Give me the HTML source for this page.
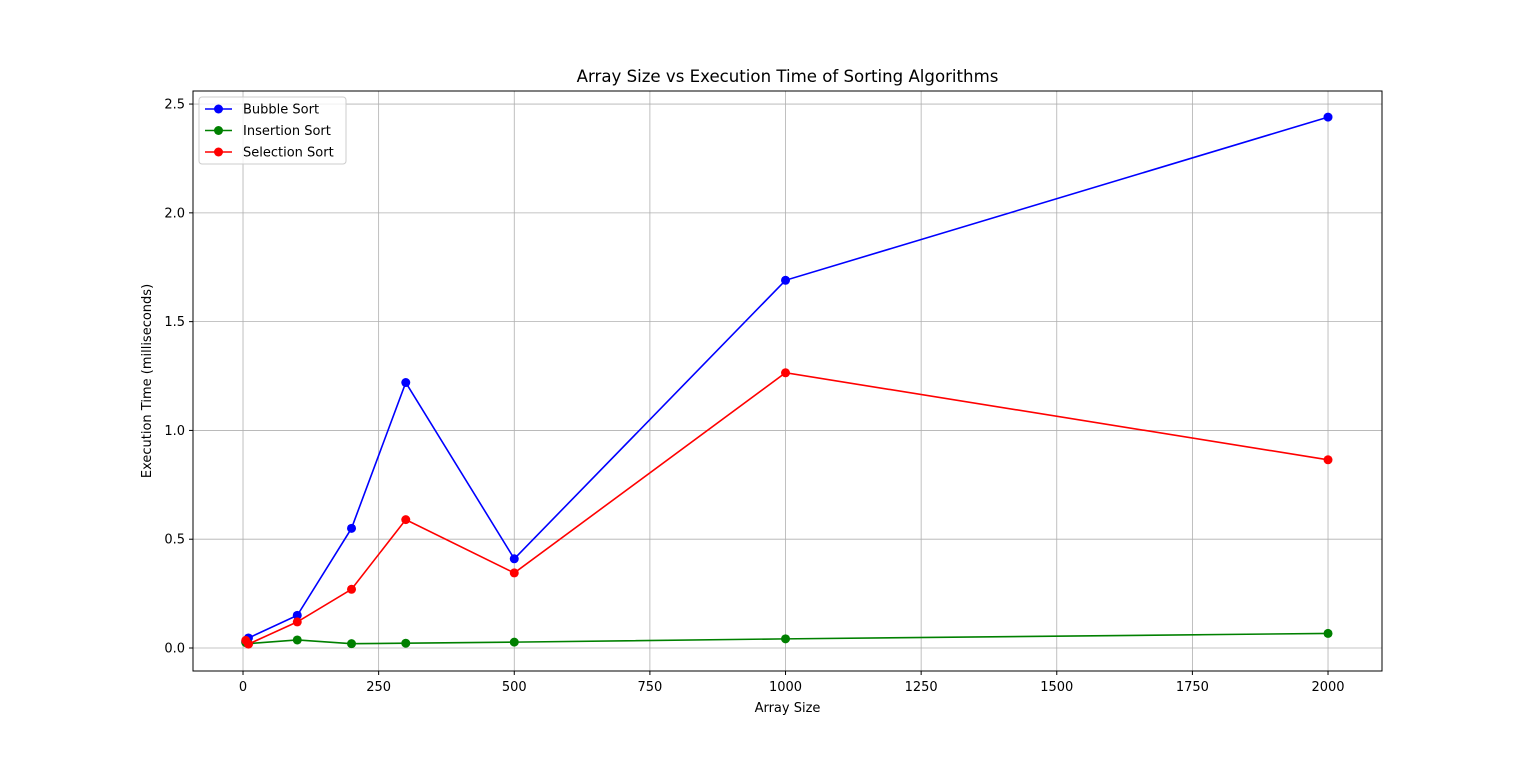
<!DOCTYPE html>
<html><head><meta charset="utf-8"><style>
body{margin:0;background:#fff;font-family:"Liberation Sans","DejaVu Sans",sans-serif}
svg text{font-family:"DejaVu Sans","Liberation Sans",sans-serif}
</style></head><body>
<svg id="c" width="1536" height="754" xmlns="http://www.w3.org/2000/svg"></svg>
<script>
const sizes=[5,10,100,200,300,500,1000,2000];
const bubble=[0.03,0.046,0.15,0.55,1.22,0.41,1.69,2.44];
const insertion=[0.025,0.02,0.037,0.02,0.022,0.027,0.042,0.067];
const selection=[0.035,0.018,0.12,0.27,0.59,0.345,1.265,0.865];
const xTicks=[0,250,500,750,1000,1250,1500,1750,2000];
const yTicks=[0.0,0.5,1.0,1.5,2.0,2.5];
const L=193,R=1382,T=91,B=671,xmin=-92.2,xmax=2099.5,ymin=-0.1057,ymax=2.56;
const X=v=>L+(v-xmin)/(xmax-xmin)*(R-L);
const Y=v=>B-(v-ymin)/(ymax-ymin)*(B-T);
const svg=document.getElementById('c');const NS='http://www.w3.org/2000/svg';
function mk(t,a,p){const e=document.createElementNS(NS,t);for(const k in a)e.setAttribute(k,a[k]);(p||svg).appendChild(e);return e;}
xTicks.forEach(v=>{const x=X(v);
const g=mk('line',{x1:x,x2:x,y1:T,y2:B,stroke:'#b0b0b0','stroke-width':0.8});


mk('line',{x1:x,x2:x,y1:B,y2:B+4,stroke:'#000'});
const t=mk('text',{x:x,y:B+20,'text-anchor':'middle','font-size':13});t.textContent=v;

});
yTicks.forEach(v=>{const y=Y(v);
const g=mk('line',{x1:L,x2:R,y1:y,y2:y,stroke:'#b0b0b0','stroke-width':0.8});


mk('line',{x1:L-4,x2:L,y1:y,y2:y,stroke:'#000'});
const t=mk('text',{x:L-8,y:y+4.5,'text-anchor':'end','font-size':13});t.textContent=v.toFixed(1);

});
const series=[[bubble,'#0000ff','bubble-sort'],[insertion,'#008000','insertion-sort'],[selection,'#ff0000','selection-sort']];
series.forEach(([d,c,n])=>{
const p=mk('polyline',{points:d.map((v,i)=>X(sizes[i])+','+Y(v)).join(' '),fill:'none',stroke:c,'stroke-width':1.6});


d.forEach((v,i)=>{const m=mk('circle',{cx:X(sizes[i]),cy:Y(v),r:4.5,fill:c});

});});
const fr=mk('rect',{x:L,y:T,width:R-L,height:B-T,fill:'none',stroke:'#000','stroke-width':1});


const ti=mk('text',{x:(L+R)/2,y:82,'text-anchor':'middle','font-size':16.6});ti.textContent='Array Size vs Execution Time of Sorting Algorithms';


const xl=mk('text',{x:(L+R)/2,y:712,'text-anchor':'middle','font-size':13});xl.textContent='Array Size';


const yl=mk('text',{x:0,y:0,'text-anchor':'middle','font-size':13,transform:`translate(151,${(T+B)/2}) rotate(-90)`});yl.textContent='Execution Time (milliseconds)';


const lg=mk('g',{});


mk('rect',{x:199,y:97,width:147,height:67,rx:3,fill:'#fff','fill-opacity':0.8,stroke:'#ccc'},lg);
['Bubble Sort','Insertion Sort','Selection Sort'].forEach((s,i)=>{const y=109+i*21.5;const c=series[i][1];
mk('line',{x1:205,x2:232,y1:y,y2:y,stroke:c,'stroke-width':1.6},lg);
mk('circle',{cx:218.5,cy:y,r:4.5,fill:c},lg);
const t=mk('text',{x:243,y:y+4.5,'font-size':13},lg);t.textContent=s;

});
</script>
</body></html>
